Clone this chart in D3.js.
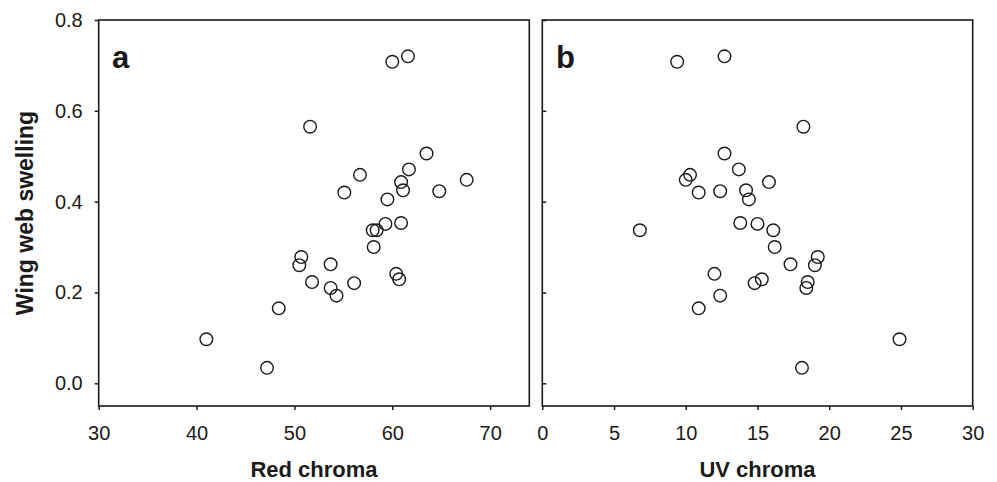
<!DOCTYPE html>
<html>
<head>
<meta charset="utf-8">
<script src="https://cdn.jsdelivr.net/npm/d3@7"></script>
<style>
  body { margin: 0; background: #fff; }
  svg { display: block; }
  text { font-family: "Liberation Sans", Arial, sans-serif; fill: #1a1a1a; }
</style>
</head>
<body>
<svg id="chart" width="997" height="482"></svg>
<script>
// wing web swelling, one value per specimen (shared by both panels)
var swelling = [0.720, 0.708, 0.565, 0.506, 0.471, 0.459, 0.448, 0.443, 0.425, 0.423,
  0.420, 0.405, 0.353, 0.351, 0.337, 0.337, 0.300, 0.278, 0.260, 0.262,
  0.241, 0.229, 0.223, 0.2205, 0.210, 0.193, 0.165, 0.097, 0.034];

var redChroma = [61.6, 60.0, 51.6, 63.5, 61.7, 56.7, 67.6, 60.9, 61.1, 64.8,
  55.1, 59.5, 60.9, 59.3, 58.4, 58.0, 58.1, 50.7, 50.5, 53.7,
  60.4, 60.7, 51.8, 56.1, 53.7, 54.3, 48.4, 41.0, 47.2];

var uvChroma = [12.7, 9.4, 18.2, 12.7, 13.7, 10.3, 10.0, 15.8, 14.2, 12.4,
  10.9, 14.4, 13.8, 15.0, 16.1, 6.8, 16.2, 19.2, 19.0, 17.3,
  12.0, 15.3, 18.5, 14.8, 18.4, 12.4, 10.9, 24.9, 18.1];

var yTicks = [0, 0.2, 0.4, 0.6, 0.8];
var xTicksA = [30, 40, 50, 60, 70];
var xTicksB = [0, 5, 10, 15, 20, 25, 30];

var svg = d3.select('#chart');

var plotTop = 20, plotBottom = 406;

var y = d3.scaleLinear()
  .domain([-0.05, 0.8])
  .range([plotBottom, plotTop]);

var xA = d3.scaleLinear()
  .domain([30, 74])
  .range([98.7, 529.3]);

var xB = d3.scaleLinear()
  .domain([0, 30])
  .range([542.3, 972.7]);

function styleAxis(g) {
  g.select('.domain').remove();
  g.selectAll('line').attr('stroke', '#1a1a1a').attr('stroke-width', 1.5);
  g.selectAll('text')
    .style('font-size', '20px')
    .style('font-family', '"Liberation Sans", Arial, sans-serif')
    .attr('fill', '#1a1a1a');
}

// panel a axes
svg.append('g')
  .attr('transform', 'translate(' + xA.range()[0] + ',0)')
  .call(d3.axisLeft(y).tickValues(yTicks).tickFormat(d3.format('.1f'))
    .tickSize(4).tickPadding(12))
  .call(styleAxis);

svg.append('g')
  .attr('transform', 'translate(0,' + plotBottom + ')')
  .call(d3.axisBottom(xA).tickValues(xTicksA).tickSize(4).tickPadding(16))
  .call(styleAxis);

// panel b axes (y ticks point inward, no labels)
svg.append('g')
  .attr('transform', 'translate(' + xB.range()[0] + ',0)')
  .call(d3.axisRight(y).tickValues(yTicks).tickFormat('').tickSize(4))
  .call(styleAxis);

svg.append('g')
  .attr('transform', 'translate(0,' + plotBottom + ')')
  .call(d3.axisBottom(xB).tickValues(xTicksB).tickSize(4).tickPadding(16))
  .call(styleAxis);

// frames
[xA, xB].forEach(function(sc) {
  svg.append('rect')
    .attr('x', sc.range()[0])
    .attr('y', plotTop)
    .attr('width', sc.range()[1] - sc.range()[0])
    .attr('height', plotBottom - plotTop)
    .attr('fill', 'none')
    .attr('stroke', '#1a1a1a')
    .attr('stroke-width', 1.6);
});

// points
function drawPoints(xs, sc) {
  svg.append('g')
    .selectAll('circle')
    .data(xs)
    .enter()
    .append('circle')
      .attr('cx', function(d) { return sc(d); })
      .attr('cy', function(d, i) { return y(swelling[i]); })
      .attr('r', 6.3)
      .attr('fill', 'none')
      .attr('stroke', '#1a1a1a')
      .attr('stroke-width', 1.4);
}
drawPoints(redChroma, xA);
drawPoints(uvChroma, xB);

// panel letters
svg.append('text')
  .attr('x', 112)
  .attr('y', 68)
  .style('font-size', '31px')
  .style('font-weight', 'bold')
  .text('a');

svg.append('text')
  .attr('x', 556)
  .attr('y', 68)
  .style('font-size', '31px')
  .style('font-weight', 'bold')
  .text('b');

// axis titles
svg.append('text')
  .attr('x', (xA.range()[0] + xA.range()[1]) / 2)
  .attr('y', 477)
  .attr('text-anchor', 'middle')
  .style('font-size', '22px')
  .style('font-weight', 'bold')
  .text('Red chroma');

svg.append('text')
  .attr('x', (xB.range()[0] + xB.range()[1]) / 2)
  .attr('y', 477)
  .attr('text-anchor', 'middle')
  .style('font-size', '22px')
  .style('font-weight', 'bold')
  .text('UV chroma');

svg.append('text')
  .attr('transform', 'translate(33,' + (plotTop + plotBottom) / 2 + ') rotate(-90)')
  .attr('text-anchor', 'middle')
  .style('font-size', '23px')
  .style('font-weight', 'bold')
  .text('Wing web swelling');
</script>
</body>
</html>
